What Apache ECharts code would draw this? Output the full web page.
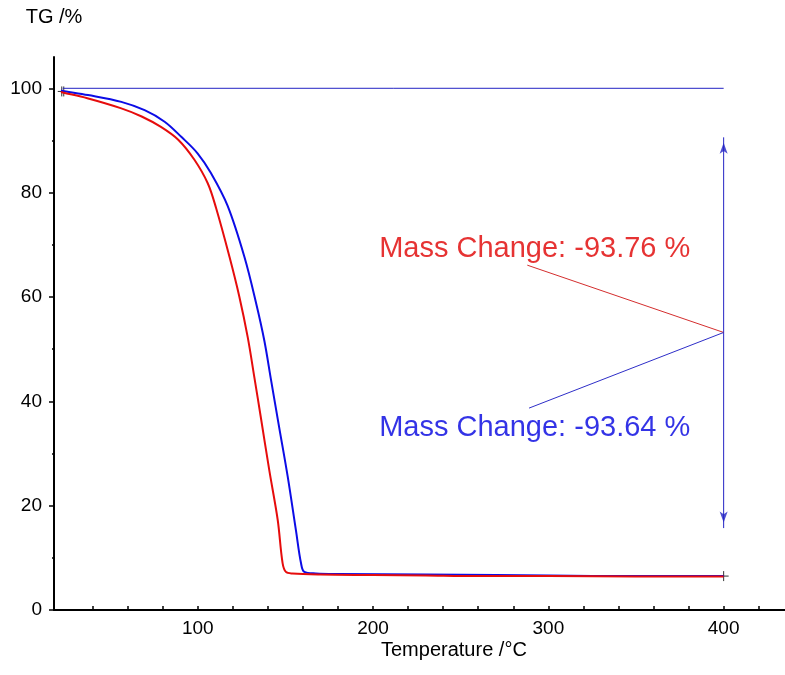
<!DOCTYPE html>
<html>
<head>
<meta charset="utf-8">
<title>TG curves</title>
<script src="https://cdn.jsdelivr.net/npm/echarts@6.0.0/dist/echarts.min.js"></script>
<style>
html, body { margin: 0; padding: 0; background: #fff; }
#chart { width: 785px; height: 675px; }
</style>
</head>
<body>
<div id="chart"></div>
<script>
// values
const redTemp = [22, 23, 37, 56, 68, 79, 89, 98.1, 105.7, 110.5, 118.1, 123.7, 128.5, 132.3, 136, 140.8, 145.6, 148.4, 150.3, 154, 170, 200, 230, 260, 300, 350, 400];
const redTG = [99.3, 99.2, 98.1, 96.2, 94.6, 92.6, 90.1, 86.3, 81.8, 77.0, 67.7, 60.1, 52.3, 44.6, 36.9, 26.8, 17.3, 9.0, 7.3, 7.0, 6.8, 6.7, 6.6, 6.5, 6.5, 6.4, 6.4];

const blueTemp = [22, 23, 37.4, 56.4, 69.7, 81.1, 90.6, 100, 107.6, 117, 126.6, 133.3, 138, 141.8, 146.4, 151.3, 156, 158.9, 160.8, 167.4, 180, 230, 270, 300, 350, 400];
const blueTG = [99.6, 99.5, 98.7, 97.4, 95.8, 93.6, 90.7, 87.5, 83.7, 77.5, 67.7, 58.8, 51.6, 44.1, 35.1, 25.6, 15.3, 9.0, 7.3, 7.0, 6.9, 6.8, 6.7, 6.6, 6.5, 6.5];

// annotation (mass change step)
const refLine = [[23, 100], [400, 100]];
const arrowLine = [[400, 90.6], [400, 15.7]];
const redLeader = [[288, 66.1], [400, 53.2]];
const blueLeader = [[289, 38.7], [400, 53.2]];
const redLabel = 'Mass Change: -93.76 %';
const blueLabel = 'Mass Change: -93.64 %';
const redLabelPos = [203.5, 69.2];
const blueLabelPos = [203.5, 34.9];
const startCross = [23, 99.4];
const endCross = [400, 6.5];

// ticks
const xTicks = [40, 60, 80, 100, 120, 140, 160, 180, 200, 220, 240, 260, 280, 300, 320, 340, 360, 380, 400, 420];
const xLabels = [100, 200, 300, 400];
const yTicks = [0, 20, 40, 60, 80, 100];
const yMinorTicks = [10, 30, 50, 70, 90];

const pairs = (xs, ys) => xs.map((x, i) => [x, ys[i]]);

const FONT = '"Liberation Sans", Arial, sans-serif';
const RED = '#e60c0c';
const BLUE = '#0c0ce6';
const NAVY = '#2323c4';

const chart = echarts.init(document.getElementById('chart'));

const option = {
    animation: false,
    backgroundColor: '#fff',
    textStyle: { fontFamily: FONT },
    grid: { left: 54, right: 0, top: 57, bottom: 65, outerBoundsMode: 'none' },
    xAxis: {
        type: 'value',
        min: 18,
        max: 435,
        axisLine: { lineStyle: { color: '#000', width: 2 } },
        axisTick: { inside: true, length: 4, customValues: xTicks, lineStyle: { color: '#000', width: 1.5 } },
        axisLabel: { customValues: xLabels, color: '#000', fontSize: 19, margin: 9, fontFamily: FONT },
        splitLine: { show: false }
    },
    yAxis: [
        {
            type: 'value',
            min: 0,
            max: 106,
            name: 'TG /%',
            nameLocation: 'end',
            nameGap: 30,
            nameTextStyle: { color: '#000', fontSize: 20, fontFamily: FONT },
            axisLine: { lineStyle: { color: '#000', width: 2 } },
            axisTick: { length: 5, customValues: yTicks, lineStyle: { color: '#000', width: 1.5 } },
            axisLabel: { customValues: yTicks, color: '#000', fontSize: 19, margin: 12, fontFamily: FONT },
            splitLine: { show: false }
        },
        {
            type: 'value',
            min: 0,
            max: 106,
            position: 'left',
            axisLine: { show: false },
            axisTick: { show: true, length: 2, customValues: yMinorTicks, lineStyle: { color: '#000', width: 1.5 } },
            axisLabel: { show: false },
            splitLine: { show: false }
        }
    ],
    series: [
        {
            name: 'ref',
            type: 'line',
            data: refLine,
            showSymbol: false,
            lineStyle: { color: NAVY, width: 1 },
            silent: true
        },
        {
            name: 'blue',
            type: 'line',
            data: pairs(blueTemp, blueTG),
            showSymbol: false,
            smooth: 0.35,
            lineStyle: { color: BLUE, width: 2 },
            silent: true
        },
        {
            name: 'red',
            type: 'line',
            data: pairs(redTemp, redTG),
            showSymbol: false,
            smooth: 0.35,
            lineStyle: { color: RED, width: 2 },
            silent: true
        },
        {
            name: 'arrow',
            type: 'line',
            data: arrowLine,
            showSymbol: false,
            lineStyle: { color: NAVY, width: 1 },
            silent: true
        },
        {
            name: 'arrowHeads',
            type: 'scatter',
            symbol: 'arrow',
            symbolSize: [6, 11],
            itemStyle: { color: NAVY },
            data: [
                { value: arrowLine[0], symbolOffset: [0, '50%'] },
                { value: arrowLine[1], symbolRotate: 180, symbolOffset: [0, '-50%'] }
            ],
            silent: true
        },
        {
            name: 'redLeader',
            type: 'line',
            data: redLeader,
            showSymbol: false,
            lineStyle: { color: '#d42e2e', width: 1 },
            silent: true
        },
        {
            name: 'blueLeader',
            type: 'line',
            data: blueLeader,
            showSymbol: false,
            lineStyle: { color: '#2e2ec8', width: 1 },
            silent: true
        },
        {
            name: 'labels',
            type: 'scatter',
            symbolSize: 0,
            data: [
                { value: redLabelPos, label: { formatter: redLabel, color: '#e00000' } },
                { value: blueLabelPos, label: { formatter: blueLabel, color: '#0000e0' } }
            ],
            label: { show: true, position: 'right', distance: 0, fontSize: 29, fontFamily: FONT },
            silent: true
        },
        {
            name: 'crosses',
            type: 'scatter',
            symbolSize: 10,
            itemStyle: { color: 'none', borderColor: '#000', borderWidth: 1 },
            data: [
                { value: startCross, symbol: 'path://M0,5L10,5M4,0L4,10M6,0L6,10' },
                { value: endCross, symbol: 'path://M0,5L10,5M5,0L5,10' }
            ],
            silent: true
        }
    ],
    graphic: [
        {
            type: 'text',
            left: 381,
            top: 640,
            style: { text: 'Temperature /\u00B0C', fill: '#000', fontSize: 20, fontFamily: FONT }
        }
    ]
};

chart.setOption(option);
</script>
</body>
</html>
